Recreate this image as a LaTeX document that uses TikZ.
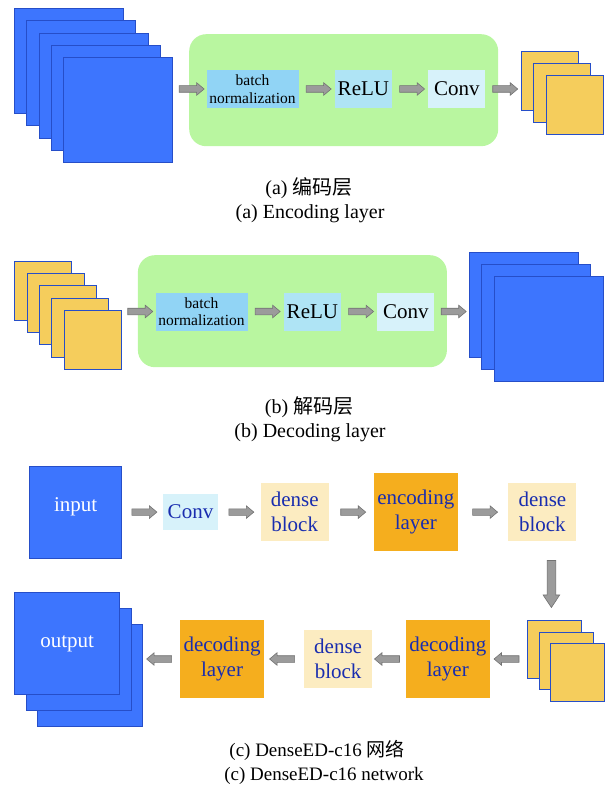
\documentclass[tikz,border=0pt]{standalone}
\usepackage{fontspec}
\setmainfont{Liberation Serif}
\newfontfamily\cjk{Noto Sans CJK SC}
\usepackage{tikz}
\usetikzlibrary{shapes.arrows, positioning}

\definecolor{mapblue}{RGB}{61,117,254}
\definecolor{mapedge}{RGB}{38,78,200}
\definecolor{mapyellow}{RGB}{245,205,92}
\definecolor{stagegreen}{RGB}{185,246,160}
\definecolor{bnblue}{RGB}{145,212,245}
\definecolor{relublue}{RGB}{175,228,245}
\definecolor{convblue}{RGB}{215,242,250}
\definecolor{densecream}{RGB}{252,236,193}
\definecolor{layerorange}{RGB}{245,174,30}
\definecolor{labelblue}{RGB}{25,45,175}
\definecolor{arrowgray}{RGB}{155,155,155}
\definecolor{arrowedge}{RGB}{115,115,115}

\tikzset{
  fmap/.style={draw=mapedge, line width=0.8pt, inner sep=0pt, anchor=north west},
  bluemap/.style={fmap, fill=mapblue, minimum width=109pt, minimum height=105pt},
  yellowmap/.style={fmap, fill=mapyellow, minimum width=57pt, minimum height=59pt},
  stage/.style={fill=stagegreen, rounded corners=17pt, minimum width=309pt,
                minimum height=112pt, anchor=north west},
  opbox/.style={inner sep=0pt, minimum height=38pt, minimum width=57pt,
                font=\fontsize{21}{25}\selectfont},
  bnbox/.style={opbox, fill=bnblue, minimum width=92pt, align=center,
                font=\fontsize{15.5}{17.5}\selectfont},
  relubox/.style={opbox, fill=relublue},
  convbox/.style={opbox, fill=convblue},
  netbox/.style={inner sep=0pt, align=center, text=labelblue,
                 font=\fontsize{21}{25}\selectfont},
  densebox/.style={netbox, fill=densecream, minimum width=68pt, minimum height=58.5pt},
  layerbox/.style={netbox, fill=layerorange, minimum width=84pt, minimum height=78.5pt},
  flow/.style={single arrow, draw=arrowedge, fill=arrowgray, line width=0.6pt,
               inner sep=3pt, minimum height=25pt, single arrow head extend=3pt,
               single arrow tip angle=80},
  flowleft/.style={flow, shape border rotate=180},
  flowdown/.style={flow, shape border rotate=270, inner sep=4pt, minimum height=47pt,
                   single arrow head extend=4pt, single arrow tip angle=67},
  caption/.style={font=\fontsize{20}{24}\selectfont, inner sep=0pt}
}

\begin{document}
\begin{tikzpicture}[x=1pt, y=-1pt]
  \useasboundingbox (0,0) rectangle (605,789);

  % encoding layer
  \foreach \k in {0,...,4}
    \node[bluemap] (ea\k) at (14+12.3*\k, 8+12.3*\k) {};
  \node[stage] (ga) at (189,34) {};
  \node[bnbox] (bn) at (252.5,89) {batch\\normalization};
  \node[relubox, right=36pt of bn] (rl) {ReLU};
  \node[convbox, right=36pt of rl] (cv) {Conv};
  \foreach \k in {0,1,2}
    \node[yellowmap] (ya\k) at (521+12.3*\k, 50.7+12.3*\k) {};
  \path (bn -| ea4.east) -- node[flow] (fa1) {} (bn);
  \path (bn) -- node[flow] (fa2) {} (rl);
  \path (rl) -- node[flow] (fa3) {} (cv);
  \path (cv) -- node[flow] (fa4) {} (cv -| ya0.west);
  \node[caption] (capa1) at (309,188) {(a) {\cjk 编码层}};
  \node[caption] (capa2) at (310,214) {(a) Encoding layer};

  % decoding layer
  \foreach \k in {0,...,4}
    \node[yellowmap] (yb\k) at (14.3+12.3*\k, 260.7+12.3*\k) {};
  \node[stage] (gb) at (137.7,255) {};
  \node[bnbox] (bn2) at (201.5,311.5) {batch\\normalization};
  \node[relubox, right=36pt of bn2] (rl2) {ReLU};
  \node[convbox, right=36pt of rl2] (cv2) {Conv};
  \foreach \k in {0,1,2}
    \node[bluemap] (bb\k) at (469+12.3*\k, 251.7+12.3*\k) {};
  \path (bn2 -| yb4.east) -- node[flow] (fb1) {} (bn2);
  \path (bn2) -- node[flow] (fb2) {} (rl2);
  \path (rl2) -- node[flow] (fb3) {} (cv2);
  \path (cv2) -- node[flow] (fb4) {} (cv2 -| bb0.west);
  \node[caption] (capb1) at (309,407) {(b) {\cjk 解码层}};
  \node[caption] (capb2) at (310,433) {(b) Decoding layer};

  % full network, top row
  \node[fmap, fill=mapblue, minimum width=92pt, minimum height=92pt] (in) at (29.3,465.7) {};
  \node[text=white, font=\fontsize{21}{25}\selectfont] (intxt) at ([yshift=5pt]in.center) {input};
  \node[convbox, text=labelblue, minimum width=55pt, minimum height=36pt, right=40.7pt of in] (cv3) {Conv};
  \node[densebox, right=42.3pt of cv3] (db1) {dense\\block};
  \node[layerbox, right=44.7pt of db1] (enc) {encoding\\layer};
  \node[densebox, right=50.2pt of enc] (db2) {dense\\block};
  \path (in) -- node[flow] (fc1) {} (cv3);
  \path (cv3) -- node[flow] (fc2) {} (db1);
  \path (db1) -- node[flow] (fc3) {} (enc);
  \path (enc) -- node[flow] (fc4) {} (db2);

  % full network, bottom row
  \foreach \k in {0,1,2}
    \node[yellowmap, minimum width=54pt, minimum height=57.5pt] (yc\k) at (527+11.6*\k, 620+11.7*\k) {};
  \node[layerbox] (dl1) at (222,659) {decoding\\layer};
  \node[densebox, right=39.7pt of dl1] (db3) {dense\\block};
  \node[layerbox, right=33.3pt of db3] (dl2) {decoding\\layer};
  \foreach \k in {2,1,0}
    \node[bluemap, minimum width=105pt, minimum height=102pt] (oc\k) at (14.3+11.2*\k, 592.3+16*\k) {};
  \node[text=white, font=\fontsize{21}{25}\selectfont] (outtxt) at (oc0.center) {output};
  \path (db2.south -| yc0) -- node[flowdown, xshift=-3pt] (fc5) {} (yc0.north);
  \path (yc0.west |- dl2) -- node[flowleft] (fc6) {} (dl2);
  \path (dl2) -- node[flowleft] (fc7) {} (db3);
  \path (db3) -- node[flowleft] (fc8) {} (dl1);
  \path (dl1) -- node[flowleft] (fc9) {} (dl1 -| oc2.east);
  \node[caption, font=\fontsize{19}{23}\selectfont] (capc1) at (317,750) {(c) DenseED-c16 {\cjk 网络}};
  \node[caption, font=\fontsize{19}{23}\selectfont] (capc2) at (324,776) {(c) DenseED-c16 network};
\end{tikzpicture}
\end{document}
